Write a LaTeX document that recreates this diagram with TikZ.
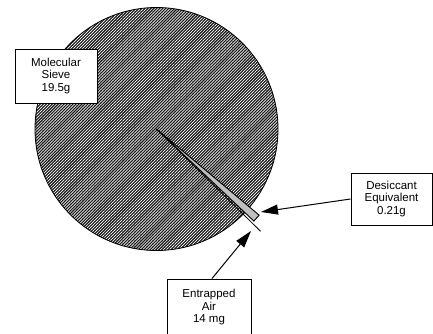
\documentclass[tikz,border=0pt]{standalone}
\usepackage{fontspec}
\setmainfont{Liberation Sans}
\usetikzlibrary{arrows.meta,patterns.meta,calc}
\begin{document}
\begin{tikzpicture}[x=1pt,y=-1pt,
  labelbox/.style={draw=black,line width=1pt,fill=white,align=center,
    font=\fontsize{11.5}{12.5}\selectfont,inner sep=0pt},
  callout/.style={-{Triangle[length=17pt,width=10pt]},line width=1pt}]
\useasboundingbox (0,0) rectangle (433,333);
\coordinate (C) at (156.5,129);
% main pie (molecular sieve)
\fill[black!90] (C) circle (121.5);
\fill[pattern={Lines[angle=45,distance=2.1pt,line width=0.65pt]},pattern color=white] (C) circle (121.5);
\draw[line width=0.8pt] (C) circle (121.5);
% entrapped air slice (thin line)
\coordinate (airtip) at ($(C)+(44.5:146)$);
\draw[line width=0.8pt] (C) -- (airtip);
% desiccant slice (exploded wedge)
\coordinate (W1) at ($(C)+(40.0:134)$);
\coordinate (W2) at ($(C)+(43.4:134)$);
\filldraw[fill=gray!50,draw=black,line width=0.9pt] (C) -- (W1) -- (W2) -- cycle;
% labels
\node[labelbox,minimum width=82pt,minimum height=54pt] (sieve) at (56,76) {Molecular\\Sieve\\19.5g};
\node[labelbox,minimum width=81pt,minimum height=52pt] (desc) at (391.5,199) {Desiccant\\Equivalent\\0.21g};
\node[labelbox,minimum width=84pt,minimum height=57pt] (air) at (209,307.5) {Entrapped\\Air\\14 mg};
% callout arrows
\coordinate (tipD) at (261,212);
\coordinate (tipA) at (251,231);
\draw[callout] (desc.west) -- (tipD);
\draw[callout] ($(air.north)+(3,0)$) -- (tipA);
\end{tikzpicture}
\end{document}
